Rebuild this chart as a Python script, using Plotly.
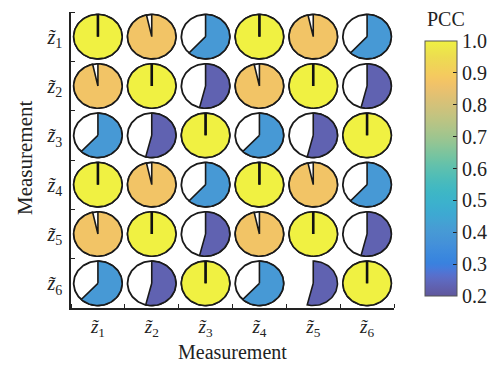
import numpy as np
import plotly.graph_objects as go
from plotly.colors import sample_colorscale

tick_text = ["<i>z\u0303</i><sub>%d</sub>" % i for i in range(1, 7)]
axis_title = "Measurement"
cbar_title = "PCC"

# colour value (PCC) of each cell, rows z1..z6 top to bottom
pcc = [
    [1.00, 0.87, 0.40, 1.00, 0.87, 0.40],
    [0.87, 1.00, 0.23, 0.87, 1.00, 0.23],
    [0.40, 0.23, 1.00, 0.40, 0.23, 1.00],
    [1.00, 0.87, 0.40, 1.00, 0.87, 0.40],
    [0.87, 1.00, 0.23, 0.87, 1.00, 0.23],
    [0.40, 0.23, 1.00, 0.40, 0.23, 1.00],
]
# filled fraction of each pie
fill_frac = [
    [1.00, 0.965, 0.62, 1.00, 0.965, 0.62],
    [0.965, 1.00, 0.54, 0.965, 1.00, 0.54],
    [0.62, 0.54, 1.00, 0.62, 0.54, 1.00],
    [1.00, 0.965, 0.62, 1.00, 0.965, 0.62],
    [0.965, 1.00, 0.54, 0.965, 1.00, 0.54],
    [0.62, 0.54, 1.00, 0.62, 0.54, 1.00],
]
# whether the outer circle outline is drawn
outline_shown = [
    [1, 1, 1, 1, 1, 1],
    [1, 1, 1, 1, 1, 1],
    [1, 1, 1, 1, 1, 1],
    [1, 1, 1, 1, 1, 1],
    [1, 1, 1, 1, 1, 1],
    [1, 1, 1, 1, 0, 1],
]
cb_ticks = [0.2, 0.3, 0.4, 0.5, 0.6, 0.7, 0.8, 0.9, 1.0]

parula_data = [[0.2081, 0.1663, 0.5292], [0.2116, 0.1898, 0.5777], [0.2123, 0.2138, 0.6270], [0.2081, 0.2386, 0.6771],
    [0.1959, 0.2645, 0.7279], [0.1707, 0.2919, 0.7792], [0.1253, 0.3242, 0.8303], [0.0591, 0.3598, 0.8683],
    [0.0117, 0.3875, 0.8820], [0.0060, 0.4086, 0.8828], [0.0165, 0.4266, 0.8786], [0.0329, 0.4430, 0.8720],
    [0.0498, 0.4586, 0.8641], [0.0629, 0.4737, 0.8554], [0.0723, 0.4887, 0.8467], [0.0779, 0.5040, 0.8384],
    [0.0793, 0.5200, 0.8312], [0.0749, 0.5375, 0.8263], [0.0641, 0.5570, 0.8240], [0.0488, 0.5772, 0.8228],
    [0.0343, 0.5966, 0.8199], [0.0265, 0.6137, 0.8135], [0.0239, 0.6287, 0.8038], [0.0231, 0.6418, 0.7913],
    [0.0228, 0.6535, 0.7768], [0.0267, 0.6642, 0.7607], [0.0384, 0.6743, 0.7436], [0.0590, 0.6838, 0.7254],
    [0.0843, 0.6928, 0.7062], [0.1133, 0.7015, 0.6859], [0.1453, 0.7098, 0.6646], [0.1801, 0.7177, 0.6424],
    [0.2178, 0.7250, 0.6193], [0.2586, 0.7317, 0.5954], [0.3022, 0.7376, 0.5712], [0.3482, 0.7424, 0.5473],
    [0.3953, 0.7459, 0.5244], [0.4420, 0.7481, 0.5033], [0.4871, 0.7491, 0.4840], [0.5300, 0.7491, 0.4661],
    [0.5709, 0.7485, 0.4494], [0.6099, 0.7473, 0.4337], [0.6473, 0.7456, 0.4188], [0.6834, 0.7435, 0.4044],
    [0.7184, 0.7411, 0.3905], [0.7525, 0.7384, 0.3768], [0.7858, 0.7356, 0.3633], [0.8185, 0.7327, 0.3498],
    [0.8507, 0.7299, 0.3360], [0.8824, 0.7274, 0.3217], [0.9139, 0.7258, 0.3063], [0.9450, 0.7261, 0.2886],
    [0.9739, 0.7314, 0.2666], [0.9938, 0.7455, 0.2403], [0.9990, 0.7653, 0.2164], [0.9955, 0.7861, 0.1967],
    [0.9880, 0.8066, 0.1794], [0.9789, 0.8271, 0.1633], [0.9697, 0.8481, 0.1475], [0.9626, 0.8705, 0.1309],
    [0.9589, 0.8949, 0.1132], [0.9598, 0.9218, 0.0948], [0.9661, 0.9514, 0.0755], [0.9763, 0.9831, 0.0538]]
n = len(parula_data)
mix, grey = 0.26, 0.84  # slightly washed-out print colours


def wash(c):
    return int(round(255 * ((1 - mix) * c + mix * grey)))


parula = [[i / (n - 1), "rgb(%d,%d,%d)" % tuple(wash(c) for c in rgb)]
          for i, rgb in enumerate(parula_data)]
cmin, cmax = 0.2, 1.0

R = 0.45
fig = go.Figure()
for i in range(6):
    for j in range(6):
        cx, cy = j + 1, i + 1
        th = np.linspace(0, 2 * np.pi, 121)
        if outline_shown[i][j]:
            fig.add_trace(go.Scatter(x=cx + R * np.sin(th), y=cy - R * np.cos(th), mode="lines",
                                     fill="toself", fillcolor="white",
                                     line=dict(color="#1a1a1a", width=1.8),
                                     hoverinfo="skip", showlegend=False))
        f = fill_frac[i][j]
        th = np.linspace(0, 2 * np.pi * f, max(3, int(120 * f) + 1))
        xs = np.concatenate([[cx], cx + R * np.sin(th), [cx]])
        ys = np.concatenate([[cy], cy - R * np.cos(th), [cy]])
        t = (pcc[i][j] - cmin) / (cmax - cmin)
        col = sample_colorscale(parula, [t])[0]
        fig.add_trace(go.Scatter(x=xs, y=ys, mode="lines", fill="toself", fillcolor=col,
                                 line=dict(color="#1a1a1a", width=1.6),
                                 hoverinfo="skip", showlegend=False))
        if f >= 0.999:
            fig.add_trace(go.Scatter(x=[cx, cx], y=[cy, cy - R], mode="lines",
                                     line=dict(color="#111111", width=2.6),
                                     hoverinfo="skip", showlegend=False))

# colour bar
fig.add_trace(go.Scatter(
    x=[None], y=[None], mode="markers",
    marker=dict(color=[cmin, cmax], cmin=cmin, cmax=cmax, colorscale=parula, showscale=True,
                colorbar=dict(x=1.096, xanchor="left", xpad=0, ypad=0, y=0.471, yanchor="middle",
                              len=0.861, lenmode="fraction", thickness=32,
                              outlinecolor="#555555", outlinewidth=1,
                              tickvals=cb_ticks, ticktext=["%.1f" % v for v in cb_ticks],
                              ticks="inside", ticklen=4, tickcolor="#222222",
                              tickfont=dict(size=20, family="Liberation Serif", color="#222222"))),
    hoverinfo="skip", showlegend=False))

font = dict(family="Liberation Serif", color="#222222")
fig.update_layout(
    width=499, height=366,
    margin=dict(l=71, r=105, t=12, b=58, autoexpand=False),
    paper_bgcolor="white", plot_bgcolor="white",
    font=font,
    xaxis=dict(range=[0.5, 6.5], showgrid=False, zeroline=False, showline=True, automargin=False,
               linecolor="#222222", linewidth=1.5, tickvals=[1, 2, 3, 4, 5, 6], ticktext=tick_text,
               ticks="", tickfont=dict(size=19), ticklabelstandoff=0,
               minor=dict(tickvals=[0.5, 1.5, 2.5, 3.5, 4.5, 5.5, 6.5], ticks="inside",
                          ticklen=4, tickcolor="#222222", tickwidth=1)),
    yaxis=dict(range=[6.5, 0.5], showgrid=False, zeroline=False, showline=True, automargin=False,
               linecolor="#222222", linewidth=1.5, tickvals=[1, 2, 3, 4, 5, 6], ticktext=tick_text,
               ticks="", tickfont=dict(size=20), ticklabelstandoff=3,
               minor=dict(tickvals=[0.5, 1.5, 2.5, 3.5, 4.5, 5.5, 6.5], ticks="inside",
                          ticklen=4, tickcolor="#222222", tickwidth=1)),
    annotations=[
        dict(text=cbar_title, xref="paper", yref="paper", x=1.096, y=(308 - 19) / 296,
             xanchor="left", yanchor="middle", showarrow=False,
             font=dict(size=20, family="Liberation Serif", color="#222222")),
        dict(text=axis_title, xref="paper", yref="paper", x=0.5, y=-(352 - 308) / 296,
             xanchor="center", yanchor="middle", showarrow=False,
             font=dict(size=20, family="Liberation Serif", color="#222222")),
        dict(text=axis_title, xref="paper", yref="paper", x=-(71 - 25) / 323, y=(308 - 158) / 296,
             xanchor="center", yanchor="middle", showarrow=False, textangle=-90,
             font=dict(size=21, family="Liberation Serif", color="#222222")),
    ],
)

fig.write_html("out.html", config={"displayModeBar": False},
               post_script="document.body.style.margin='0px';")
